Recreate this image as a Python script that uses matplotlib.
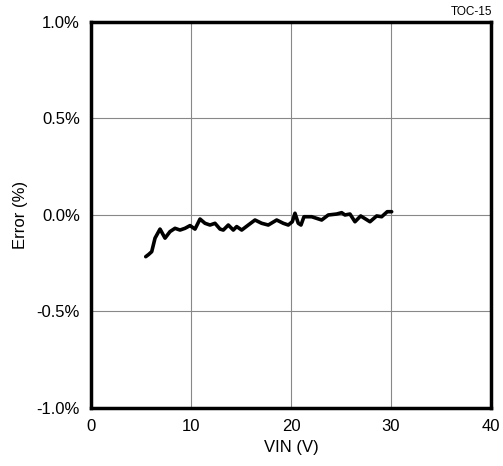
import matplotlib
matplotlib.use("Agg")
import matplotlib.pyplot as plt
from matplotlib.ticker import FuncFormatter

plt.rcParams['font.family'] = ['Liberation Sans', 'DejaVu Sans']

vin = [5.47, 5.75, 6.07, 6.4, 6.9, 7.4, 7.9, 8.4, 8.9, 9.4, 9.9, 10.4, 10.9,
       11.4, 11.9, 12.4, 12.9, 13.23, 13.73, 14.23, 14.57, 15.07, 15.73, 16.4,
       17.07, 17.73, 18.57, 19.23, 19.73, 20.13, 20.4, 20.73, 21.0, 21.3, 22.07,
       23.07, 23.73, 24.57, 25.07, 25.4, 25.9, 26.4, 26.97, 27.9, 28.57, 29.07,
       29.63, 30.07]
error = [-0.216, -0.205, -0.19, -0.12, -0.073, -0.12, -0.086, -0.069, -0.078,
         -0.069, -0.055, -0.073, -0.021, -0.043, -0.052, -0.043, -0.073, -0.078,
         -0.052, -0.078, -0.06, -0.078, -0.052, -0.026, -0.043, -0.052, -0.026,
         -0.043, -0.052, -0.035, 0.009, -0.043, -0.052, -0.009, -0.009, -0.026,
         0.0, 0.005, 0.012, 0.0, 0.005, -0.035, -0.005, -0.035, -0.005, -0.009,
         0.017, 0.017]

x_ticks = [0, 10, 20, 30, 40]
y_ticks = [-1.0, -0.5, 0.0, 0.5, 1.0]

fig = plt.figure(figsize=(5.03, 4.66), dpi=100)
ax = fig.add_axes([0.181, 0.1245, 0.795, 0.8283])
ax.plot(vin, error, color='black', lw=2.6, solid_capstyle='round', solid_joinstyle='round')
ax.set_xlim(0, 40)
ax.set_ylim(-1.0, 1.0)
ax.set_xticks(x_ticks)
ax.set_yticks(y_ticks)
ax.yaxis.set_major_formatter(FuncFormatter(lambda v, p: f"{v:.1f}%"))
ax.grid(True, color='#888888', lw=0.8)
ax.tick_params(length=0, labelsize=12, pad=8)
for s in ax.spines.values():
    s.set_linewidth(2.5)
ax.set_xlabel('VIN (V)', fontsize=12, labelpad=4)
ax.set_ylabel('Error (%)', fontsize=12, labelpad=6)
fig.text(0.978, 0.988, 'TOC-15', ha='right', va='top', fontsize=8.5)
fig.savefig('out.png', dpi=100)
